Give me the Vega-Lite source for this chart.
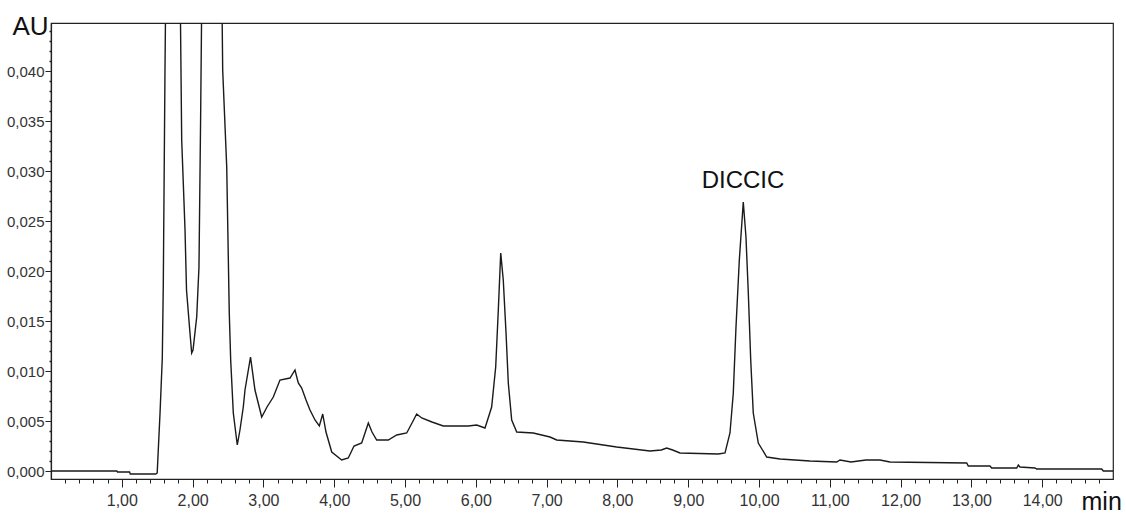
{
  "$schema": "https://vega.github.io/schema/vega-lite/v6.json",
  "width": 1062,
  "height": 456,
  "autosize": {"type": "none"},
  "padding": {"left": 51, "top": 23, "right": 13, "bottom": 35},
  "background": "white",
  "config": {
    "view": {"stroke": "#222222", "strokeWidth": 1.2},
    "font": "Liberation Sans"
  },
  "datasets": {
    "trace": [
      {"t": 0, "v": 0}, {"t": 0.93, "v": 0}, {"t": 0.94, "v": -0.0001}, {"t": 1.11, "v": -0.0001},
      {"t": 1.12, "v": -0.0003}, {"t": 1.48, "v": -0.0003}, {"t": 1.5, "v": -0.0002}, {"t": 1.54, "v": 0.0058},
      {"t": 1.572, "v": 0.0113}, {"t": 1.586, "v": 0.0186}, {"t": 1.61, "v": 0.0401}, {"t": 1.65, "v": 0.07},
      {"t": 1.72, "v": 0.09}, {"t": 1.8, "v": 0.065}, {"t": 1.846, "v": 0.0331}, {"t": 1.893, "v": 0.0241},
      {"t": 1.914, "v": 0.0181}, {"t": 1.963, "v": 0.0138}, {"t": 1.987, "v": 0.0118}, {"t": 2.006, "v": 0.0121},
      {"t": 2.058, "v": 0.0154}, {"t": 2.09, "v": 0.0204}, {"t": 2.114, "v": 0.0358}, {"t": 2.16, "v": 0.07},
      {"t": 2.27, "v": 0.09}, {"t": 2.38, "v": 0.07}, {"t": 2.425, "v": 0.0401}, {"t": 2.482, "v": 0.0304},
      {"t": 2.518, "v": 0.0158}, {"t": 2.538, "v": 0.0111}, {"t": 2.575, "v": 0.0058}, {"t": 2.631, "v": 0.0026},
      {"t": 2.669, "v": 0.0041}, {"t": 2.716, "v": 0.0064}, {"t": 2.74, "v": 0.0081}, {"t": 2.818, "v": 0.0114},
      {"t": 2.881, "v": 0.0081}, {"t": 2.976, "v": 0.0054}, {"t": 3.051, "v": 0.0064}, {"t": 3.14, "v": 0.0074},
      {"t": 3.234, "v": 0.0091}, {"t": 3.376, "v": 0.0093}, {"t": 3.446, "v": 0.0101}, {"t": 3.493, "v": 0.0088},
      {"t": 3.541, "v": 0.0083}, {"t": 3.602, "v": 0.0071}, {"t": 3.658, "v": 0.0061}, {"t": 3.729, "v": 0.0051},
      {"t": 3.79, "v": 0.0045}, {"t": 3.838, "v": 0.0057}, {"t": 3.884, "v": 0.0039}, {"t": 3.965, "v": 0.0019},
      {"t": 4.106, "v": 0.0011}, {"t": 4.199, "v": 0.0013}, {"t": 4.28, "v": 0.0025}, {"t": 4.388, "v": 0.0028},
      {"t": 4.435, "v": 0.0038}, {"t": 4.482, "v": 0.0048}, {"t": 4.534, "v": 0.0039}, {"t": 4.6, "v": 0.0031},
      {"t": 4.764, "v": 0.0031}, {"t": 4.883, "v": 0.0036}, {"t": 5.024, "v": 0.0038}, {"t": 5.099, "v": 0.0048},
      {"t": 5.165, "v": 0.0057}, {"t": 5.236, "v": 0.0053}, {"t": 5.381, "v": 0.0049}, {"t": 5.541, "v": 0.0045},
      {"t": 5.894, "v": 0.0045}, {"t": 6.013, "v": 0.0046}, {"t": 6.13, "v": 0.0043}, {"t": 6.224, "v": 0.0064},
      {"t": 6.281, "v": 0.0104}, {"t": 6.318, "v": 0.0161}, {"t": 6.352, "v": 0.0218}, {"t": 6.388, "v": 0.0191},
      {"t": 6.427, "v": 0.0138}, {"t": 6.459, "v": 0.0088}, {"t": 6.507, "v": 0.0051}, {"t": 6.578, "v": 0.0039},
      {"t": 6.812, "v": 0.0038}, {"t": 7.048, "v": 0.0034}, {"t": 7.143, "v": 0.0031}, {"t": 7.518, "v": 0.0029},
      {"t": 7.99, "v": 0.0024}, {"t": 8.46, "v": 0.002}, {"t": 8.62, "v": 0.0021}, {"t": 8.696, "v": 0.0023},
      {"t": 8.78, "v": 0.0021}, {"t": 8.884, "v": 0.0018}, {"t": 9.425, "v": 0.0017}, {"t": 9.52, "v": 0.0018},
      {"t": 9.59, "v": 0.0038}, {"t": 9.637, "v": 0.0078}, {"t": 9.675, "v": 0.0144}, {"t": 9.722, "v": 0.0211},
      {"t": 9.778, "v": 0.0269}, {"t": 9.816, "v": 0.0234}, {"t": 9.849, "v": 0.0178}, {"t": 9.883, "v": 0.0111},
      {"t": 9.919, "v": 0.0058}, {"t": 9.99, "v": 0.0028}, {"t": 10.109, "v": 0.0014}, {"t": 10.297, "v": 0.0012},
      {"t": 10.72, "v": 0.001}, {"t": 11.097, "v": 0.0009}, {"t": 11.144, "v": 0.0011}, {"t": 11.299, "v": 0.0009},
      {"t": 11.511, "v": 0.0011}, {"t": 11.709, "v": 0.0011}, {"t": 11.85, "v": 0.0009}, {"t": 12.934, "v": 0.0008},
      {"t": 12.956, "v": 0.0005}, {"t": 13.263, "v": 0.0005}, {"t": 13.286, "v": 0.0003}, {"t": 13.64, "v": 0.0003},
      {"t": 13.663, "v": 0.0006}, {"t": 13.686, "v": 0.0004}, {"t": 13.898, "v": 0.0003}, {"t": 13.922, "v": 0.0002},
      {"t": 14.84, "v": 0.0002}, {"t": 14.863, "v": 0}, {"t": 15, "v": 0}
    ],
    "labels": [{"t": 9.774, "v": 0.0283, "label": "DICCIC"}]
  },
  "layer": [
    {
      "data": {"name": "trace"},
      "mark": {"type": "line", "opacity": 0},
      "encoding": {
        "x": {
          "field": "t", "type": "quantitative",
          "scale": {"domain": [0, 15], "nice": false, "zero": false},
          "axis": {
            "orient": "bottom", "title": null, "labels": false, "domain": false, "grid": false,
            "tickSize": 4, "tickColor": "#222222", "tickWidth": 1,
            "values": [0.2,0.4,0.6,0.8,1.2,1.4,1.6,1.8,2.2,2.4,2.6,2.8,3.2,3.4,3.6,3.8,4.2,4.4,4.6,4.8,5.2,5.4,5.6,5.8,6.2,6.4,6.6,6.8,7.2,7.4,7.6,7.8,8.2,8.4,8.6,8.8,9.2,9.4,9.6,9.8,10.2,10.4,10.6,10.8,11.2,11.4,11.6,11.8,12.2,12.4,12.6,12.8,13.2,13.4,13.6,13.8,14.2,14.4,14.6,14.8]
          }
        },
        "y": {
          "field": "v", "type": "quantitative",
          "scale": {"domain": [-0.0008, 0.0448], "nice": false, "zero": false},
          "axis": {
            "orient": "left", "title": null, "labels": false, "domain": false, "grid": false,
            "tickSize": 2, "tickColor": "#222222", "tickWidth": 1.5,
            "values": [0.001,0.002,0.003,0.004,0.006,0.007,0.008,0.009,0.011,0.012,0.013,0.014,0.016,0.017,0.018,0.019,0.021,0.022,0.023,0.024,0.026,0.027,0.028,0.029,0.031,0.032,0.033,0.034,0.036,0.037,0.038,0.039,0.041,0.042,0.043,0.044]
          }
        }
      }
    },
    {
      "data": {"name": "trace"},
      "mark": {"type": "line", "clip": true, "color": "#1a1a1a", "strokeWidth": 1.4},
      "encoding": {
        "x": {
          "field": "t", "type": "quantitative",
          "axis": {
            "orient": "bottom", "grid": false,
            "values": [1,2,3,4,5,6,7,8,9,10,11,12,13,14],
            "labelExpr": "replace(format(datum.value, '.2f'), '.', ',')",
            "domainColor": "#222222", "domainWidth": 1.2,
            "tickColor": "#222222", "tickSize": 8, "tickWidth": 1,
            "labelFont": "Liberation Sans",
            "labelFontSize": 16, "labelColor": "#333333", "labelPadding": 5,
            "title": "min", "titleFont": "Liberation Sans", "titleFontSize": 25, "titleFontWeight": "normal",
            "titleColor": "#111111", "titleAnchor": "start", "titleAlign": "left", "titleBaseline": "alphabetic",
            "titleX": 1030, "titleY": 30
          }
        },
        "y": {
          "field": "v", "type": "quantitative",
          "axis": {
            "orient": "left", "grid": false,
            "values": [0, 0.005, 0.01, 0.015, 0.02, 0.025, 0.03, 0.035, 0.04],
            "labelExpr": "replace(format(datum.value, '.3f'), '.', ',')",
            "domainColor": "#222222", "domainWidth": 1.2,
            "tickColor": "#222222", "tickSize": 6, "tickWidth": 1,
            "labelFont": "Liberation Sans",
            "labelFontSize": 15, "labelColor": "#333333", "labelPadding": 1,
            "title": "AU", "titleFont": "Liberation Sans", "titleFontSize": 26, "titleFontWeight": "normal",
            "titleColor": "#111111", "titleAngle": 0, "titleAlign": "left", "titleBaseline": "alphabetic",
            "titleX": -39, "titleY": 11
          }
        }
      }
    },
    {
      "data": {"name": "labels"},
      "mark": {"type": "text", "align": "center", "baseline": "alphabetic", "fontSize": 24, "color": "#111111", "font": "Liberation Sans"},
      "encoding": {
        "x": {"field": "t", "type": "quantitative", "axis": null},
        "y": {"field": "v", "type": "quantitative", "axis": null},
        "text": {"field": "label"}
      }
    }
  ],
  "resolve": {"axis": {"x": "independent", "y": "independent"}}
}
